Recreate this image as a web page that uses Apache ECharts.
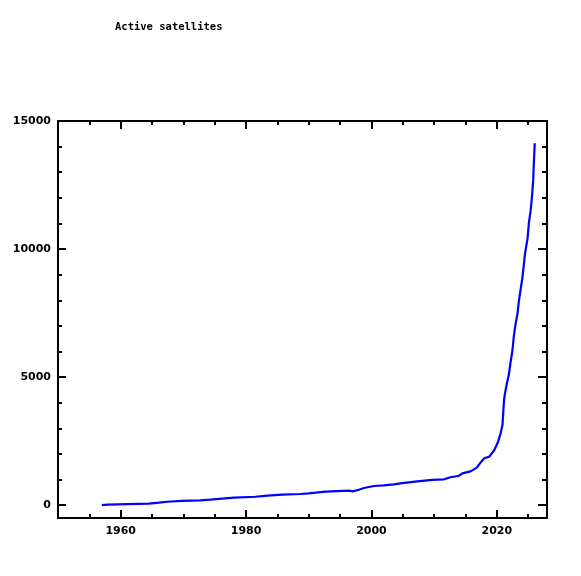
<!DOCTYPE html>
<html>
<head>
<meta charset="utf-8">
<script src="https://cdn.jsdelivr.net/npm/echarts@6/dist/echarts.min.js"></script>
<style>
html,body{margin:0;padding:0;background:#fff;}
#chart{width:581px;height:576px;}
</style>
</head>
<body>
<div id="chart"></div>
<script>
var titleText = "Active satellites";
var years = [1957.0, 1957.9, 1964.5, 1966.1, 1967.4, 1969.8, 1972.7, 1974.3, 1976.2, 1978.1, 1981.5, 1983.4, 1985.8, 1988.7, 1990.0, 1991.1, 1992.7, 1996.4, 1997.0, 1998.0, 1998.8, 1999.6, 2000.4, 2002.0, 2003.6, 2004.9, 2007.3, 2009.7, 2011.6, 2012.6, 2014.0, 2014.5, 2015.8, 2016.8, 2017.3, 2018.0, 2018.8, 2019.6, 2020.2, 2020.6, 2020.9, 2021.05, 2021.15, 2021.3, 2021.4, 2021.55, 2021.9, 2022.2, 2022.5, 2022.7, 2023.0, 2023.3, 2023.5, 2024.1, 2024.5, 2024.9, 2025.1, 2025.4, 2025.6, 2025.8, 2025.9, 2026.05];
var satellites = [0, 20, 60, 100, 135, 165, 190, 215, 255, 295, 330, 370, 410, 437, 465, 490, 527, 566, 540, 605, 670, 710, 750, 775, 815, 865, 930, 985, 1010, 1090, 1150, 1245, 1320, 1465, 1635, 1830, 1895, 2155, 2480, 2805, 3130, 3720, 4110, 4370, 4500, 4690, 5080, 5600, 6060, 6580, 7100, 7490, 7945, 8920, 9830, 10420, 11000, 11520, 12040, 12700, 13350, 14130];
var xMajorTicks = [1960, 1980, 2000, 2020];
var xMinorTicks = [1955, 1965, 1970, 1975, 1985, 1990, 1995, 2005, 2010, 2015, 2025];
var yMajorTicks = [0, 5000, 10000, 15000];
var yMinorTicks = [1000, 2000, 3000, 4000, 6000, 7000, 8000, 9000, 11000, 12000, 13000, 14000];
var xRange = [1950, 2028];
var yRange = [-500, 15000];

var lineStyleAxis = {color: '#000', width: 2};
var labelStyle = {color: '#000', fontFamily: 'DejaVu Sans', fontWeight: 'bold', fontSize: 11};
function plain(v) { return String(v); }

function xAx(pos, ticks, len, showLine, showLabel) {
  return {
    type: 'value', position: pos, min: xRange[0], max: xRange[1], gridIndex: 0,
    axisLine: {show: showLine, onZero: false, lineStyle: lineStyleAxis},
    axisTick: {show: true, inside: true, length: len, customValues: ticks, lineStyle: lineStyleAxis},
    axisLabel: Object.assign({show: showLabel, margin: 8, customValues: ticks, formatter: plain}, labelStyle),
    splitLine: {show: false}
  };
}
function yAx(pos, ticks, len, showLine, showLabel) {
  return {
    type: 'value', position: pos, min: yRange[0], max: yRange[1], gridIndex: 0,
    axisLine: {show: showLine, onZero: false, lineStyle: lineStyleAxis},
    axisTick: {show: true, inside: true, length: len, customValues: ticks, lineStyle: lineStyleAxis},
    axisLabel: Object.assign({show: showLabel, margin: 7, customValues: ticks, formatter: plain}, labelStyle),
    splitLine: {show: false}
  };
}

var chart = echarts.init(document.getElementById('chart'), null, {renderer: 'canvas'});
chart.setOption({
  animation: false,
  backgroundColor: '#fff',
  title: {
    text: titleText, left: 115, top: 22, padding: 0,
    textStyle: {fontFamily: 'DejaVu Sans Mono', fontWeight: 'bold', fontSize: 10.5, color: '#000'}
  },
  grid: {left: 58, right: 34, top: 121, bottom: 58, containLabel: false},
  xAxis: [
    xAx('bottom', xMajorTicks, 8, true, true),
    xAx('bottom', xMinorTicks, 4, false, false),
    xAx('top', xMajorTicks, 8, true, false),
    xAx('top', xMinorTicks, 4, false, false)
  ],
  yAxis: [
    yAx('left', yMajorTicks, 8, true, true),
    yAx('left', yMinorTicks, 4, false, false),
    yAx('right', yMajorTicks, 9, true, false),
    yAx('right', yMinorTicks, 5, false, false)
  ],
  series: [{
    type: 'line',
    xAxisIndex: 0, yAxisIndex: 0,
    data: years.map(function (y, i) { return [y, satellites[i]]; }),
    showSymbol: false,
    lineStyle: {color: '#0000ff', width: 2.2},
    itemStyle: {color: '#0000ff'}
  }]
});
</script>
</body>
</html>
